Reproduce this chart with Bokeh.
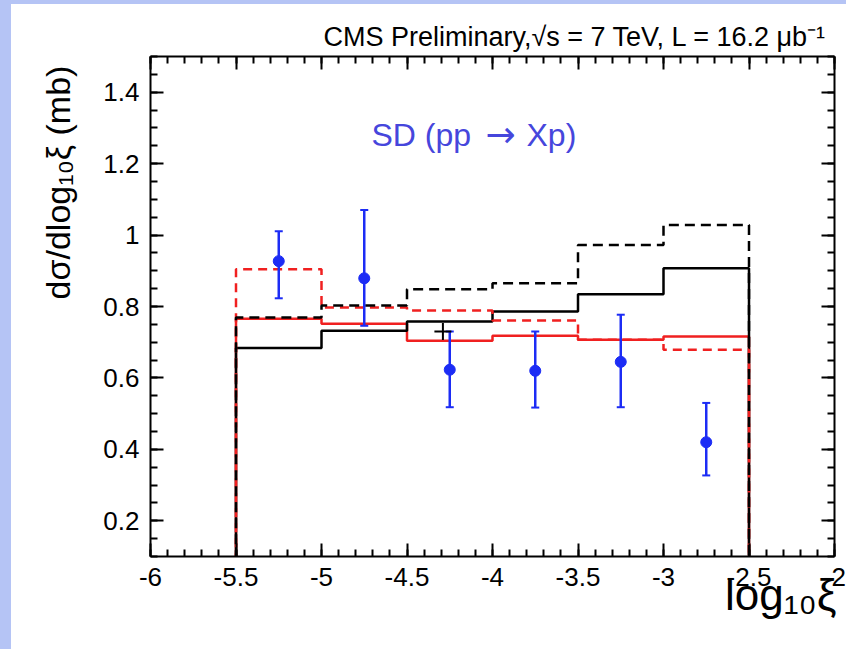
import numpy as np
from bokeh.plotting import figure
from bokeh.models import FixedTicker, LinearAxis, Label, Range1d, Spacer
from bokeh.layouts import column, row
from bokeh.embed import file_html
from bokeh.resources import INLINE

# ---------------- data ----------------
bin_edges = [-5.5, -5.0, -4.5, -4.0, -3.5, -3.0, -2.5]
black_solid = [0.684, 0.732, 0.758, 0.786, 0.834, 0.907]
black_dashed = [0.769, 0.803, 0.848, 0.865, 0.972, 1.028]
red_solid = [0.766, 0.752, 0.704, 0.718, 0.707, 0.716]
red_dashed = [0.904, 0.797, 0.789, 0.761, 0.707, 0.679]

data_x = [-5.25, -4.75, -4.25, -3.75, -3.25, -2.75]
data_y = [0.927, 0.879, 0.623, 0.620, 0.645, 0.420]
data_hi = [1.011, 1.070, 0.730, 0.730, 0.777, 0.530]
data_lo = [0.823, 0.746, 0.518, 0.517, 0.518, 0.327]

cross_x = [-4.29]
cross_y = [0.73]

x_ticks = [-6, -5.5, -5, -4.5, -4, -3.5, -3, -2.5, -2]
x_tick_labels = ["-6", "-5.5", "-5", "-4.5", "-4", "-3.5", "-3", "-2.5", "-2"]
y_ticks = [0.2, 0.4, 0.6, 0.8, 1, 1.2, 1.4]
y_tick_labels = ["0.2", "0.4", "0.6", "0.8", "1", "1.2", "1.4"]

title_text = "CMS Preliminary,\u221as = 7 TeV, L = 16.2 \u03bcb\u207b\u00b9"
x_label_text = "log\u2081\u2080\u03be"
y_label_text = "d\u03c3/dlog\u2081\u2080\u03be (mb)"
sd_text = ["SD (pp", "\u2192", "Xp)"]

FONT = "Liberation Sans"
BAND = "#b5c4f5"

# pixel helpers (absolute page pixels -> data coords)
def X(px):
    return -6 + (px - 150) / 171.0

def Y(py):
    return 0.1 + (556 - py) / (500 / 1.4)

def steps(edges, vals, floor=0.0):
    xs = [edges[0]]
    ys = [floor]
    for i, v in enumerate(vals):
        xs += [edges[i], edges[i + 1]]
        ys += [v, v]
    xs.append(edges[-1])
    ys.append(floor)
    return xs, ys

p = figure(width=835, height=645, output_backend="svg", toolbar_location=None,
           x_range=Range1d(-6, -2), y_range=Range1d(0.1, 1.5),
           x_axis_location=None, y_axis_location=None,
           min_border_left=139, min_border_right=12, min_border_top=52, min_border_bottom=93)
p.xgrid.visible = False
p.ygrid.visible = False
p.outline_line_color = None
p.background_fill_color = "white"
p.border_fill_color = "white"

x_minor = list(np.round(np.arange(-6, -1.99, 0.1), 3))
y_minor = list(np.round(np.arange(0.1, 1.501, 0.05), 3))

def style_axis(ax, ticks, minor, labels, show_labels, standoff):
    ax.ticker = FixedTicker(ticks=ticks, minor_ticks=minor)
    ax.axis_line_width = 2
    ax.axis_line_color = "black"
    ax.major_tick_line_width = 2
    ax.minor_tick_line_width = 2
    ax.major_tick_in = 13
    ax.major_tick_out = 0
    ax.minor_tick_in = 7
    ax.minor_tick_out = 0
    ax.major_label_text_font = FONT
    ax.major_label_text_color = "black"
    ax.major_label_text_font_size = "26px"
    if show_labels:
        ax.major_label_overrides = {t: l for t, l in zip(ticks, labels)}
        ax.major_label_standoff = standoff
    else:
        ax.major_label_overrides = {t: "" for t in ticks}
        ax.major_label_standoff = 0

xb = LinearAxis(); style_axis(xb, x_ticks, x_minor, x_tick_labels, True, 11)
xt = LinearAxis(); style_axis(xt, x_ticks, x_minor, x_tick_labels, False, 0)
yl = LinearAxis(); style_axis(yl, y_ticks, y_minor, y_tick_labels, True, 11)
yr = LinearAxis(); style_axis(yr, y_ticks, y_minor, y_tick_labels, False, 0)
p.add_layout(xb, "below")
p.add_layout(xt, "above")
p.add_layout(yl, "left")
p.add_layout(yr, "right")

# histograms
RED = "#f02020"
xs, ys = steps(bin_edges, red_solid)
p.line(xs, ys, line_color=RED, line_width=2.5)
xs, ys = steps(bin_edges, black_solid)
p.line(xs, ys, line_color="black", line_width=2.5)
xs, ys = steps(bin_edges, red_dashed)
p.line(xs, ys, line_color=RED, line_width=2.5, line_dash="9 6")
xs, ys = steps(bin_edges, black_dashed)
p.line(xs, ys, line_color="black", line_width=2.5, line_dash="10 6")

# data points
BLUE = "#1c2cf5"
p.segment(x0=data_x, y0=data_lo, x1=data_x, y1=data_hi, line_color=BLUE, line_width=2.5)
p.scatter(data_x, data_hi, marker="dash", size=8, line_color=BLUE, line_width=2)
p.scatter(data_x, data_lo, marker="dash", size=8, line_color=BLUE, line_width=2)
p.scatter(data_x, data_y, marker="circle", size=11, fill_color=BLUE, line_color=BLUE)
p.scatter(cross_x, cross_y, marker="cross", size=17, line_color="black", line_width=2)

def lab(px, py, text, size, align="left", color="black", font=FONT, angle=0, place=None):
    l = Label(x=X(px), y=Y(py), text=text, text_font=font,
              text_font_size=f"{size}px", text_align=align,
              text_baseline="alphabetic", text_color=color,
              angle=angle, angle_units="deg")
    if place is None:
        p.add_layout(l)
    else:
        p.add_layout(l, place)

# SD label (inside frame)
SDC = "#4646dc"
lab(371, 134, sd_text[0], 32, color=SDC)
lab(500, 134, sd_text[1], 36, align="center", color=SDC, font="DejaVu Sans")
lab(526, 134, sd_text[2], 32, color=SDC)

# texts outside the frame live in side panels (so they are not clipped)
lab(826, 36, title_text, 27, align="right", place="above")
lab(836, 594, x_label_text, 44, align="right", place="below")
lab(57, 182, y_label_text, 34, align="center", angle=90, place="left")

top = Spacer(width=846, height=4, styles={"background-color": BAND})
left = Spacer(width=11, height=645, styles={"background-color": BAND})
layout = column(top, row(left, p, spacing=0), spacing=0)

open("out.html", "w").write(file_html(layout, INLINE))
